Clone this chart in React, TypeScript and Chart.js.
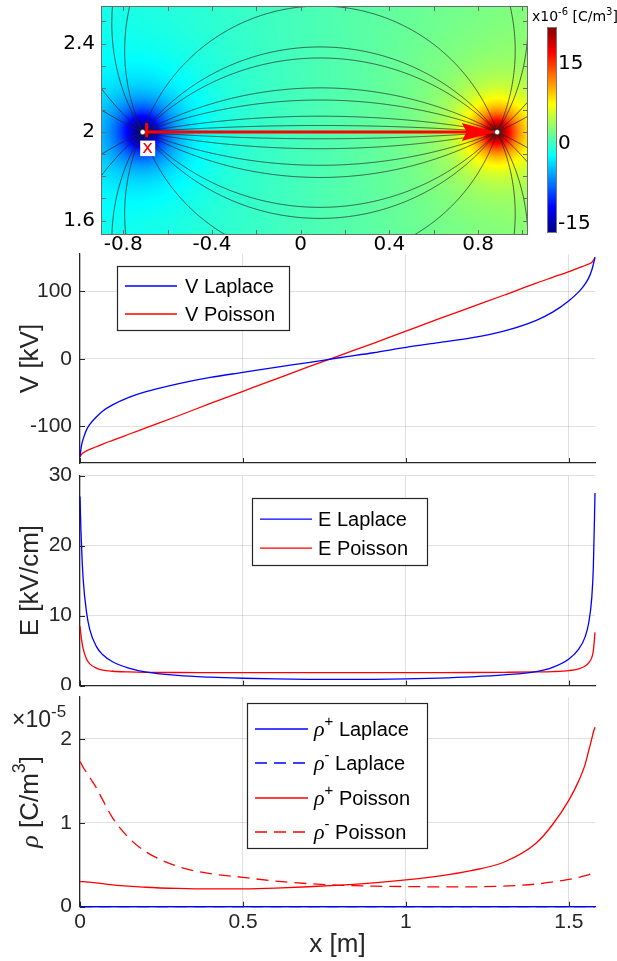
import React, { useEffect, useRef } from "react";
import { Chart, registerables } from "chart.js";

Chart.register(...registerables);

// ---------------- Panel 1: 2-D net space-charge map ----------------
const MAP_X_LIMITS = [-0.9, 1.025];
const MAP_Y_LIMITS = [1.535, 2.57];
const MAP_X_TICKS = [-0.8, -0.4, 0, 0.4, 0.8];
const MAP_Y_TICKS = [1.6, 2, 2.4];
const MAP_X_MINOR = [-0.8, -0.6, -0.4, -0.2, 0, 0.2, 0.4, 0.6, 0.8, 1.0];
const MAP_Y_MINOR = [1.6, 1.7, 1.8, 1.9, 2.0, 2.1, 2.2, 2.3, 2.4, 2.5];
const CHARGE_NEG = [-0.712, 2.0];
const CHARGE_POS = [0.886, 2.0];
const CUT_LINE = [[-0.694, 2.0], [0.875, 2.0]];
const CUT_LABEL = "x";
const CBAR_LIMITS = [-17, 21.75];
const CBAR_TICKS = [-15, 0, 15];
// background net charge at the left / right edge, peak values and spread near the charges (x1e-6 C/m^3, m)
const RHO_BACKGROUND = [-1.2, 2.0];
const RHO_PEAK = [-16, 20];
const RHO_SPREAD = [0.11, 0.095];
// field lines: circle arcs through both charges, given by their offset from the axis at mid-span (m)
const FIELD_LINE_SAGITTA = [
  0.03, 0.072, 0.145, 0.2, 0.335, 0.385, 0.57, 1.25, 1.43, 2.18, 3.6,
  -0.03, -0.075, -0.15, -0.205, -0.34, -0.39, -0.58, -1.25, -1.43, -2.18, -3.6,
];

// ---------------- Panels 2-4: profiles along the cut line ----------------
const X_MAX = 1.58;
const X_TICKS = [0, 0.5, 1, 1.5];
const X_M = [0, 0.003, 0.006, 0.01, 0.02, 0.03, 0.05, 0.07, 0.1, 0.15, 0.2, 0.3, 0.4, 0.5, 0.6, 0.7, 0.8, 0.9, 1.0, 1.1, 1.2, 1.3, 1.4, 1.45, 1.5, 1.53, 1.55, 1.56, 1.57, 1.575, 1.58];

const V_LIMITS = [-154, 155];
const V_TICKS = [-100, 0, 100];
const V_LAPLACE = [-145, -133, -125, -118, -105, -97, -86, -77, -68, -57, -49, -37, -27.5, -20, -12.5, -5.5, 2, 9, 17, 24, 31, 41, 57, 69, 86, 99, 111, 119, 131, 140, 150];
const V_POISSON = [-145, -142.5, -140.5, -139, -136, -134, -130, -126, -120.5, -111.5, -102.5, -84.5, -66, -48, -30, -12, 5.5, 23, 41, 59, 76.5, 94, 112, 120.5, 129, 134.5, 138, 140, 142.5, 145.5, 150];

const E_LIMITS = [0, 30];
const E_TICKS = [0, 10, 20, 30];
const E_LAPLACE = [27, 22, 18.5, 15, 10.5, 8, 5.6, 4.4, 3.4, 2.5, 1.95, 1.45, 1.2, 1.05, 0.95, 0.9, 0.88, 0.9, 0.97, 1.08, 1.25, 1.52, 2.0, 2.6, 3.8, 5.2, 7.0, 8.8, 12.5, 17, 27.5];
const E_POISSON = [8.5, 7.2, 6.2, 5.2, 3.8, 3.1, 2.5, 2.2, 2.05, 1.95, 1.9, 1.87, 1.86, 1.85, 1.85, 1.85, 1.85, 1.85, 1.85, 1.86, 1.87, 1.9, 1.95, 2.0, 2.15, 2.4, 2.8, 3.2, 4.0, 5.0, 7.6];

const RHO_LIMITS = [0, 2.5]; // x1e-5 C/m^3
const RHO_TICKS = [0, 1, 2];
const RHO_LAPLACE_X = [0, 0.5, 1, 1.58];
const RHO_P_LAPLACE = [0, 0, 0, 0];
const RHO_N_LAPLACE = [0, 0, 0, 0];
const RHO_P_POISSON = [0.3, 0.3, 0.3, 0.298, 0.295, 0.292, 0.285, 0.275, 0.26, 0.245, 0.232, 0.218, 0.212, 0.213, 0.222, 0.238, 0.258, 0.285, 0.32, 0.365, 0.43, 0.53, 0.76, 0.98, 1.27, 1.5, 1.7, 1.85, 2.0, 2.08, 2.14];
const RHO_N_POISSON = [1.73, 1.71, 1.69, 1.66, 1.6, 1.54, 1.42, 1.27, 1.06, 0.82, 0.66, 0.48, 0.395, 0.35, 0.305, 0.275, 0.255, 0.245, 0.24, 0.237, 0.237, 0.245, 0.27, 0.295, 0.325, 0.35, 0.37, 0.38, 0.395, 0.405, 0.41];

// ---------------- styling / layout ----------------
const W = 617;
const SANS = "'Liberation Sans', Arial, sans-serif";
const MAPFONT = "'DejaVu Sans', Verdana, sans-serif";
const SERIF = "'Liberation Serif', 'DejaVu Serif', serif";
const AXIS = "#262626";
const GRID = "rgba(38,38,38,0.14)";
const BLUE = "#0000ff";
const RED = "#ff0000";
const DASH = [12, 7];
const PLOT_LEFT = 80;
const PLOT_RIGHT = 595;
const MAP_AREA = { left: 101, right: 528, top: 6, bottom: 235, canvasH: 262 };
const CBAR_BOX = { left: 547, right: 557, top: 27, bottom: 233 };

const PANEL_V = { top: 244, height: 224, areaTop: 254, areaBottom: 463 };
const PANEL_E = { top: 466, height: 224, areaTop: 475.6, areaBottom: 685.6 };
const PANEL_R = { top: 690, height: 271, areaTop: 697, areaBottom: 906.7 };

function clamp01(v: number) {
  return Math.max(0, Math.min(1, v));
}
function jet(t: number) {
  t = clamp01(t);
  const r = clamp01(1.5 - Math.abs(4 * t - 3));
  const g = clamp01(1.5 - Math.abs(4 * t - 2));
  const b = clamp01(1.5 - Math.abs(4 * t - 1));
  return [Math.round(r * 255), Math.round(g * 255), Math.round(b * 255)];
}
function netCharge(x: number, y: number) {
  const f = (x - MAP_X_LIMITS[0]) / (MAP_X_LIMITS[1] - MAP_X_LIMITS[0]);
  const bg = RHO_BACKGROUND[0] + (RHO_BACKGROUND[1] - RHO_BACKGROUND[0]) * f;
  const r1 = Math.hypot(x - CHARGE_NEG[0], y - CHARGE_NEG[1]) / RHO_SPREAD[0];
  const r2 = Math.hypot(x - CHARGE_POS[0], y - CHARGE_POS[1]) / RHO_SPREAD[1];
  return bg + RHO_PEAK[0] / (1 + r1 * r1) + RHO_PEAK[1] / (1 + r2 * r2);
}
function cbarT(v: number) {
  return (v - CBAR_LIMITS[0]) / (CBAR_LIMITS[1] - CBAR_LIMITS[0]);
}

type Piece = { text: string; font: string; dy?: number; color?: string };
function drawPieces(ctx: any, pieces: Piece[], x: number, y: number, align: string, rotate = false) {
  ctx.save();
  ctx.translate(x, y);
  if (rotate) ctx.rotate(-Math.PI / 2);
  ctx.textBaseline = "alphabetic";
  ctx.textAlign = "left";
  const widths = pieces.map((p) => {
    ctx.font = p.font;
    return ctx.measureText(p.text).width;
  });
  let cx = align === "center" ? -widths.reduce((s, w) => s + w, 0) / 2 : 0;
  pieces.forEach((p, i) => {
    ctx.font = p.font;
    ctx.fillStyle = p.color || AXIS;
    ctx.fillText(p.text, cx, p.dy || 0);
    cx += widths[i];
  });
  ctx.restore();
}

function fixedAxis(size: number, horizontal: boolean) {
  return (s: any) => {
    if (horizontal) s.height = size;
    else s.width = size;
    s.paddingTop = 0;
    s.paddingBottom = 0;
    s.paddingLeft = 0;
    s.paddingRight = 0;
  };
}
function setTicks(values: number[]) {
  return (s: any) => {
    s.ticks = values.map((v) => ({ value: v }));
  };
}
const plainLabel = (v: any) => String(v);

// ---------------- map chart ----------------
function mapConfig(): any {
  const mapPlugin = {
    id: "mapField",
    beforeDatasetsDraw(chart: any) {
      const { ctx, chartArea: a } = chart;
      const xs = chart.scales.x;
      const ys = chart.scales.y;
      const w = Math.round(a.right - a.left);
      const h = Math.round(a.bottom - a.top);
      const off = document.createElement("canvas");
      off.width = w;
      off.height = h;
      const octx = off.getContext("2d") as CanvasRenderingContext2D;
      const img = octx.createImageData(w, h);
      for (let j = 0; j < h; j++) {
        const yv = ys.getValueForPixel(a.top + j + 0.5);
        for (let i = 0; i < w; i++) {
          const xv = xs.getValueForPixel(a.left + i + 0.5);
          const [r, g, b] = jet(cbarT(netCharge(xv, yv)));
          const k = (j * w + i) * 4;
          img.data[k] = r;
          img.data[k + 1] = g;
          img.data[k + 2] = b;
          img.data[k + 3] = 255;
        }
      }
      octx.putImageData(img, 0, 0);
      ctx.drawImage(off, a.left, a.top);

      // field lines
      ctx.save();
      ctx.beginPath();
      ctx.rect(a.left, a.top, a.right - a.left, a.bottom - a.top);
      ctx.clip();
      ctx.strokeStyle = "rgba(35,35,35,0.8)";
      ctx.lineWidth = 0.9;
      const x1 = CHARGE_NEG[0];
      const x2 = CHARGE_POS[0];
      const y0 = CHARGE_NEG[1];
      const c = (x2 - x1) / 2;
      const xm = (x1 + x2) / 2;
      FIELD_LINE_SAGITTA.forEach((s) => {
        const as = Math.abs(s);
        const sg = Math.sign(s);
        const R = (as * as + c * c) / (2 * as);
        const yc = as - R;
        const alpha = Math.atan2(-yc, c);
        const n = 500;
        ctx.beginPath();
        for (let k = 0; k <= n; k++) {
          const phi = alpha + ((Math.PI - 2 * alpha) * k) / n;
          const px = xs.getPixelForValue(xm + R * Math.cos(phi));
          const py = ys.getPixelForValue(y0 + sg * (yc + R * Math.sin(phi)));
          if (k === 0) ctx.moveTo(px, py);
          else ctx.lineTo(px, py);
        }
        ctx.stroke();
      });
      ctx.restore();
    },
    afterDatasetDraw(chart: any, args: any) {
      if (args.index !== 1) return;
      const { ctx } = chart;
      const xs = chart.scales.x;
      const ys = chart.scales.y;
      const sx = xs.getPixelForValue(CUT_LINE[0][0]);
      const sy = ys.getPixelForValue(CUT_LINE[0][1]);
      const tx = xs.getPixelForValue(CUT_LINE[1][0]);
      const ty = ys.getPixelForValue(CUT_LINE[1][1]);
      ctx.save();
      ctx.fillStyle = RED;
      ctx.beginPath();
      ctx.moveTo(tx, ty);
      ctx.lineTo(tx - 33, ty - 9);
      ctx.lineTo(tx - 28, ty);
      ctx.lineTo(tx - 33, ty + 9);
      ctx.closePath();
      ctx.fill();
      ctx.strokeStyle = RED;
      ctx.lineWidth = 3;
      ctx.beginPath();
      ctx.moveTo(sx, sy - 9);
      ctx.lineTo(sx, sy + 5);
      ctx.stroke();
      ctx.fillStyle = "#ffffff";
      ctx.fillRect(sx - 6.5, sy + 8.5, 15, 15.5);
      ctx.fillStyle = RED;
      ctx.font = `18px ${MAPFONT}`;
      ctx.textAlign = "center";
      ctx.textBaseline = "alphabetic";
      ctx.fillText(CUT_LABEL, sx + 1, sy + 21);
      ctx.restore();
    },
    afterDraw(chart: any) {
      const { ctx, chartArea: a } = chart;
      const xs = chart.scales.x;
      const ys = chart.scales.y;
      ctx.save();
      ctx.strokeStyle = "#6a6a6a";
      ctx.lineWidth = 1;
      ctx.strokeRect(Math.round(a.left) + 0.5, Math.round(a.top) + 0.5, Math.round(a.right - a.left) - 1, Math.round(a.bottom - a.top) - 1);
      ctx.beginPath();
      MAP_X_MINOR.forEach((v) => {
        const px = Math.round(xs.getPixelForValue(v)) + 0.5;
        ctx.moveTo(px, a.bottom);
        ctx.lineTo(px, a.bottom - 5);
        ctx.moveTo(px, a.top);
        ctx.lineTo(px, a.top + 5);
      });
      MAP_Y_MINOR.forEach((v) => {
        const py = Math.round(ys.getPixelForValue(v)) + 0.5;
        ctx.moveTo(a.left, py);
        ctx.lineTo(a.left + 5, py);
        ctx.moveTo(a.right, py);
        ctx.lineTo(a.right - 5, py);
      });
      ctx.stroke();

      // colour bar
      const cb = CBAR_BOX;
      const hh = cb.bottom - cb.top;
      for (let j = 0; j < hh; j++) {
        const v = CBAR_LIMITS[1] - ((j + 0.5) / hh) * (CBAR_LIMITS[1] - CBAR_LIMITS[0]);
        const [r, g, b] = jet(cbarT(v));
        ctx.fillStyle = `rgb(${r},${g},${b})`;
        ctx.fillRect(cb.left, cb.top + j, cb.right - cb.left, 1);
      }
      ctx.strokeStyle = "#777";
      ctx.strokeRect(cb.left + 0.5, cb.top + 0.5, cb.right - cb.left - 1, hh - 1);
      ctx.fillStyle = "#000";
      ctx.font = `20px ${MAPFONT}`;
      ctx.textAlign = "left";
      ctx.textBaseline = "middle";
      CBAR_TICKS.forEach((v) => {
        const py = cb.bottom - cbarT(v) * hh;
        ctx.fillText(String(v), cb.right + 1, py + 1);
      });
      drawPieces(
        ctx,
        [
          { text: "x10", font: `14px ${MAPFONT}`, color: "#000" },
          { text: "-6", font: `10px ${MAPFONT}`, dy: -6, color: "#000" },
          { text: " [C/m", font: `14px ${MAPFONT}`, color: "#000" },
          { text: "3", font: `10px ${MAPFONT}`, dy: -6, color: "#000" },
          { text: "]", font: `14px ${MAPFONT}`, color: "#000" },
        ],
        532,
        21,
        "left"
      );
      ctx.restore();
    },
  };

  return {
    type: "scatter",
    data: {
      datasets: [
        {
          type: "scatter",
          data: [CHARGE_NEG, CHARGE_POS].map(([x, y]) => ({ x, y })),
          pointRadius: 2.6,
          pointBackgroundColor: "#ffffff",
          pointBorderColor: "#222",
          pointBorderWidth: 0.6,
        },
        {
          type: "line",
          data: CUT_LINE.map(([x, y]) => ({ x, y })),
          borderColor: RED,
          borderWidth: 3,
          pointRadius: 0,
        },
      ],
    },
    options: {
      animation: false,
      responsive: false,
      events: [],
      layout: { padding: { left: 0, right: W - MAP_AREA.right, top: MAP_AREA.top, bottom: 0 } },
      plugins: { legend: { display: false }, tooltip: { enabled: false } },
      scales: {
        x: {
          type: "linear",
          min: MAP_X_LIMITS[0],
          max: MAP_X_LIMITS[1],
          afterBuildTicks: setTicks(MAP_X_TICKS),
          afterFit: fixedAxis(MAP_AREA.canvasH - MAP_AREA.bottom, true),
          grid: { display: false, drawTicks: false },
          border: { display: false },
          ticks: { font: { family: MAPFONT, size: 20 }, color: "#000", padding: -2, maxRotation: 0, autoSkip: false, callback: plainLabel },
        },
        y: {
          type: "linear",
          min: MAP_Y_LIMITS[0],
          max: MAP_Y_LIMITS[1],
          afterBuildTicks: setTicks(MAP_Y_TICKS),
          afterFit: fixedAxis(MAP_AREA.left, false),
          grid: { display: false, drawTicks: false },
          border: { display: false },
          ticks: { font: { family: MAPFONT, size: 20 }, color: "#000", padding: 6, autoSkip: false, callback: plainLabel },
        },
      },
    },
    plugins: [mapPlugin],
  };
}

// ---------------- profile charts ----------------
type LegendSpec = {
  box: number[]; // relative to chart area left/top: x0, y0, x1, y1
  rows: number[];
  line: number[];
  textX: number;
  items: { ds: number; pieces: Piece[] }[];
};
type DecorSpec = {
  yTicks: number[];
  yTitle: Piece[];
  legend: LegendSpec;
  xTitle?: Piece[];
  exponent?: Piece[];
};

function makeDecor(spec: DecorSpec) {
  return {
    id: "profileDecor",
    afterDraw(chart: any) {
      const { ctx, chartArea: a } = chart;
      const xs = chart.scales.x;
      const ys = chart.scales.y;
      ctx.save();
      // inward tick marks
      ctx.strokeStyle = AXIS;
      ctx.lineWidth = 1;
      ctx.beginPath();
      X_TICKS.forEach((v) => {
        const px = Math.round(xs.getPixelForValue(v)) + 0.5;
        ctx.moveTo(px, a.bottom);
        ctx.lineTo(px, a.bottom - 5);
      });
      spec.yTicks.forEach((v) => {
        const py = Math.round(ys.getPixelForValue(v)) + 0.5;
        ctx.moveTo(a.left, py);
        ctx.lineTo(a.left + 5, py);
      });
      ctx.stroke();

      // legend
      const L = spec.legend;
      const bx0 = a.left + L.box[0];
      const by0 = a.top + L.box[1];
      const bw = L.box[2] - L.box[0];
      const bh = L.box[3] - L.box[1];
      ctx.fillStyle = "#ffffff";
      ctx.fillRect(bx0, by0, bw, bh);
      ctx.strokeStyle = AXIS;
      ctx.lineWidth = 1.2;
      ctx.strokeRect(Math.round(bx0) + 0.5, Math.round(by0) + 0.5, Math.round(bw), Math.round(bh));
      L.items.forEach((it, i) => {
        const ds = chart.data.datasets[it.ds];
        const ry = a.top + L.rows[i];
        ctx.strokeStyle = ds.borderColor;
        ctx.lineWidth = ds.borderWidth;
        ctx.setLineDash(ds.borderDash || []);
        ctx.beginPath();
        ctx.moveTo(a.left + L.line[0], ry);
        ctx.lineTo(a.left + L.line[1], ry);
        ctx.stroke();
        ctx.setLineDash([]);
        drawPieces(ctx, it.pieces, a.left + L.textX, ry + 7, "left");
      });

      // axis titles
      drawPieces(ctx, spec.yTitle, 29, (a.top + a.bottom) / 2, "center", true);
      if (spec.xTitle) drawPieces(ctx, spec.xTitle, (a.left + a.right) / 2, a.bottom + 45, "center");
      if (spec.exponent) drawPieces(ctx, spec.exponent, 12, a.top + 30, "left");
      ctx.restore();
    },
  };
}

function profileConfig(panel: any, datasets: any[], yLim: number[], yTicks: number[], showX: boolean, decor: DecorSpec): any {
  return {
    type: "line",
    data: { datasets },
    options: {
      animation: false,
      responsive: false,
      events: [],
      layout: { padding: { left: 0, right: W - PLOT_RIGHT, top: panel.areaTop - panel.top, bottom: 0 } },
      plugins: { legend: { display: false }, tooltip: { enabled: false } },
      scales: {
        x: {
          type: "linear",
          min: 0,
          max: X_MAX,
          afterBuildTicks: setTicks(X_TICKS),
          afterFit: fixedAxis(panel.top + panel.height - panel.areaBottom, true),
          grid: { color: GRID, drawTicks: false, lineWidth: 1 },
          border: { color: AXIS, width: 1.2 },
          ticks: { display: showX, font: { family: SANS, size: 21 }, color: AXIS, padding: 3, maxRotation: 0, autoSkip: false, callback: plainLabel },
        },
        y: {
          type: "linear",
          min: yLim[0],
          max: yLim[1],
          afterBuildTicks: setTicks(yTicks),
          afterFit: fixedAxis(PLOT_LEFT, false),
          grid: { color: GRID, drawTicks: false, lineWidth: 1 },
          border: { color: AXIS, width: 1.2 },
          ticks: { font: { family: SANS, size: 21 }, color: AXIS, padding: 8, autoSkip: false, callback: plainLabel },
        },
      },
    },
    plugins: [makeDecor(decor)],
  };
}

function series(label: string, xs: number[], ys: number[], color: string, dash?: number[]) {
  return {
    label,
    data: xs.map((x, i) => ({ x, y: ys[i] })),
    borderColor: color,
    borderWidth: 1.3,
    borderDash: dash || [],
    pointRadius: 0,
    cubicInterpolationMode: "monotone",
    clip: 2,
  };
}

const LEG_FONT = `20px ${SANS}`;
const RHO_FONT = `italic 22px ${SERIF}`;
const SUP_FONT = `15px ${SANS}`;
const TITLE_FONT = `26px ${SANS}`;

function vConfig() {
  return profileConfig(
    PANEL_V,
    [series("V Laplace", X_M, V_LAPLACE, BLUE), series("V Poisson", X_M, V_POISSON, RED)],
    V_LIMITS,
    V_TICKS,
    false,
    {
      yTicks: V_TICKS,
      yTitle: [{ text: "V [kV]", font: TITLE_FONT, dy: 9 }],
      legend: {
        box: [37, 12, 209, 76],
        rows: [32, 60],
        line: [45, 97],
        textX: 105,
        items: [
          { ds: 0, pieces: [{ text: "V Laplace", font: LEG_FONT, color: "#000" }] },
          { ds: 1, pieces: [{ text: "V Poisson", font: LEG_FONT, color: "#000" }] },
        ],
      },
    }
  );
}

function eConfig() {
  return profileConfig(
    PANEL_E,
    [series("E Laplace", X_M, E_LAPLACE, BLUE), series("E Poisson", X_M, E_POISSON, RED)],
    E_LIMITS,
    E_TICKS,
    false,
    {
      yTicks: E_TICKS,
      yTitle: [{ text: "E [kV/cm]", font: TITLE_FONT, dy: 9 }],
      legend: {
        box: [172, 22, 347, 89],
        rows: [43.5, 72.5],
        line: [180, 232],
        textX: 238,
        items: [
          { ds: 0, pieces: [{ text: "E Laplace", font: LEG_FONT, color: "#000" }] },
          { ds: 1, pieces: [{ text: "E Poisson", font: LEG_FONT, color: "#000" }] },
        ],
      },
    }
  );
}

function rhoLegendPieces(sign: string, name: string): Piece[] {
  return [
    { text: "\u03c1", font: RHO_FONT, color: "#000" },
    { text: sign, font: SUP_FONT, dy: -10, color: "#000" },
    { text: " " + name, font: LEG_FONT, color: "#000" },
  ];
}

function rConfig() {
  return profileConfig(
    PANEL_R,
    [
      series("\u03c1+ Laplace", RHO_LAPLACE_X, RHO_P_LAPLACE, BLUE),
      series("\u03c1- Laplace", RHO_LAPLACE_X, RHO_N_LAPLACE, BLUE, DASH),
      series("\u03c1+ Poisson", X_M, RHO_P_POISSON, RED),
      series("\u03c1- Poisson", X_M, RHO_N_POISSON, RED, DASH),
    ],
    RHO_LIMITS,
    RHO_TICKS,
    true,
    {
      yTicks: RHO_TICKS,
      yTitle: [
        { text: "\u03c1", font: `italic 26px ${SERIF}`, dy: 9 },
        { text: " [C/m", font: TITLE_FONT, dy: 9 },
        { text: "3", font: `18px ${SANS}`, dy: -4 },
        { text: "]", font: TITLE_FONT, dy: 9 },
      ],
      xTitle: [{ text: "x [m]", font: TITLE_FONT }],
      exponent: [
        { text: "\u00d710", font: `23px ${SANS}` },
        { text: "-5", font: `17px ${SANS}`, dy: -10 },
      ],
      legend: {
        box: [167, 6, 347, 151],
        rows: [32, 66, 101, 135],
        line: [175, 228],
        textX: 234,
        items: [
          { ds: 0, pieces: rhoLegendPieces("+", "Laplace") },
          { ds: 1, pieces: rhoLegendPieces("-", "Laplace") },
          { ds: 2, pieces: rhoLegendPieces("+", "Poisson") },
          { ds: 3, pieces: rhoLegendPieces("-", "Poisson") },
        ],
      },
    }
  );
}

export default function App() {
  const mapRef = useRef<HTMLCanvasElement>(null);
  const vRef = useRef<HTMLCanvasElement>(null);
  const eRef = useRef<HTMLCanvasElement>(null);
  const rRef = useRef<HTMLCanvasElement>(null);

  useEffect(() => {
    const charts = [
      new Chart(mapRef.current as HTMLCanvasElement, mapConfig()),
      new Chart(vRef.current as HTMLCanvasElement, vConfig()),
      new Chart(eRef.current as HTMLCanvasElement, eConfig()),
      new Chart(rRef.current as HTMLCanvasElement, rConfig()),
    ];
    return () => charts.forEach((c) => c.destroy());
  }, []);

  const abs = (top: number): any => ({ position: "absolute", left: 0, top });
  return (
    <div style={{ position: "absolute", left: 0, top: 0, width: W, height: 961, background: "#ffffff", overflow: "hidden" }}>
      <canvas ref={mapRef} width={W} height={MAP_AREA.canvasH} style={abs(0)} />
      <canvas ref={vRef} width={W} height={PANEL_V.height} style={abs(PANEL_V.top)} />
      <canvas ref={eRef} width={W} height={PANEL_E.height} style={abs(PANEL_E.top)} />
      <canvas ref={rRef} width={W} height={PANEL_R.height} style={abs(PANEL_R.top)} />
    </div>
  );
}
